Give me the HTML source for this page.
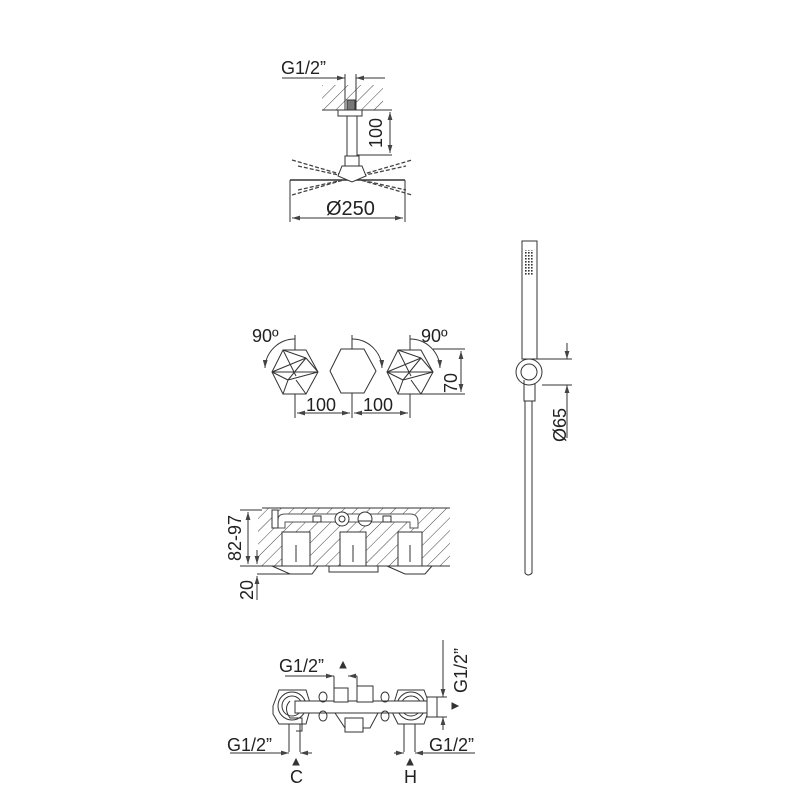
<!DOCTYPE html>
<html><head><meta charset="utf-8"><style>html,body{margin:0;padding:0;background:#fff}svg{display:block}text{font-family:"Liberation Sans",sans-serif;fill:#222}</style></head><body>
<svg width="800" height="800" viewBox="0 0 800 800" xmlns="http://www.w3.org/2000/svg">
<defs>
<pattern id="h" width="9" height="9" patternUnits="userSpaceOnUse" patternTransform="rotate(45)"><line x1="0" y1="0" x2="0" y2="9" stroke="#444" stroke-width="1"/></pattern>
<pattern id="d" width="3" height="3" patternUnits="userSpaceOnUse"><rect x="0" y="0" width="1.6" height="1.6" fill="#333"/></pattern>
<marker id="a" viewBox="0 0 10 6" refX="10" refY="3" markerWidth="8" markerHeight="5" orient="auto-start-reverse"><path d="M0,0 L10,3 L0,6 z" fill="#444"/></marker>
</defs>
<g stroke="#333" stroke-width="1" fill="none">
<!-- TOP SHOWER -->
<rect x="322" y="85" width="61" height="25" fill="url(#h)" stroke="none"/>
<line x1="322" y1="110" x2="392" y2="110"/>
<line x1="282" y1="78" x2="345" y2="78" marker-end="url(#a)"/>
<line x1="385" y1="78" x2="356" y2="78" marker-end="url(#a)"/>
<line x1="345" y1="74" x2="345" y2="110"/><line x1="356" y1="74" x2="356" y2="110"/>
<rect x="347" y="100" width="8" height="10" fill="#777"/>
<rect x="338" y="110" width="24" height="6"/>
<rect x="347" y="116" width="10" height="40"/>
<rect x="345" y="156" width="14" height="10"/>
<line x1="357" y1="155" x2="392" y2="155"/>
<line x1="390" y1="112" x2="390" y2="153" marker-start="url(#a)" marker-end="url(#a)"/>
<line x1="290" y1="180" x2="405" y2="180" stroke-width="1.5"/>
<g stroke-dasharray="4,2" stroke="#444" stroke-width="1.3">
<line x1="292" y1="160" x2="412" y2="195"/><line x1="292" y1="195" x2="412" y2="160"/>
<line x1="298" y1="166" x2="406" y2="190"/><line x1="298" y1="190" x2="406" y2="166"/>
</g>
<path d="M342,166 L362,166 L366,176 L352,182 L338,176 Z" fill="#fff"/>
<line x1="290" y1="180" x2="290" y2="222"/><line x1="405" y1="180" x2="405" y2="222"/>
<line x1="292" y1="218" x2="403" y2="218" marker-start="url(#a)" marker-end="url(#a)"/>
<!-- HANDLES -->
<g id="hx">
<polygon points="272,372 283,350 306,350 318,372 306,394 283,394"/>
<line x1="272" y1="372" x2="306" y2="358"/>
<line x1="283" y1="350" x2="306" y2="358"/>
<line x1="306" y1="358" x2="318" y2="372"/>
<line x1="272" y1="372" x2="318" y2="372"/>
<line x1="283" y1="350" x2="296" y2="376"/>
<line x1="306" y1="358" x2="288" y2="380"/>
<line x1="272" y1="372" x2="288" y2="380"/>
<line x1="288" y1="380" x2="283" y2="394"/>
<line x1="288" y1="380" x2="318" y2="372"/>
<line x1="296" y1="380" x2="306" y2="394"/>
</g>
<use href="#hx" x="115"/>
<polygon points="330,371 341,349 364,349 376,371 364,393 341,393"/>
<path d="M295,339 A30,30 0 0 0 265,368" marker-end="url(#a)"/>
<path d="M352,339 A30,30 0 0 1 382,368" marker-end="url(#a)"/>
<path d="M410,339 A30,30 0 0 1 440,368" marker-end="url(#a)"/>
<line x1="295" y1="335" x2="295" y2="350"/><line x1="352" y1="335" x2="352" y2="349"/><line x1="410" y1="335" x2="410" y2="350"/>
<line x1="295" y1="394" x2="295" y2="418"/><line x1="352" y1="393" x2="352" y2="418"/><line x1="410" y1="394" x2="410" y2="418"/>
<line x1="297" y1="413" x2="350" y2="413" marker-start="url(#a)" marker-end="url(#a)"/>
<line x1="354" y1="413" x2="408" y2="413" marker-start="url(#a)" marker-end="url(#a)"/>
<line x1="433" y1="349" x2="465" y2="349"/><line x1="421" y1="394" x2="465" y2="394"/>
<line x1="461" y1="351" x2="461" y2="392" marker-start="url(#a)" marker-end="url(#a)"/>
<!-- SECTION -->
<path d="M262,508 L450,508 L450,566 L258,566 L258,508 Z" fill="url(#h)" stroke="none"/>
<path d="M278,520 Q278,514 285,514 L410,514 Q418,514 418,522 L418,528 L410,528 L410,522 L285,522 L285,528 L278,528 Z" fill="#fff" stroke="#555"/>
<path d="M262,508 L450,508 M258,566 L450,566" />
<rect x="282" y="532" width="28" height="34" fill="#fff"/>
<rect x="340" y="532" width="26" height="34" fill="#fff"/>
<rect x="398" y="532" width="24" height="34" fill="#fff"/>
<line x1="296" y1="545" x2="296" y2="562"/><line x1="353" y1="545" x2="353" y2="562"/><line x1="410" y1="545" x2="410" y2="562"/>
<circle cx="342" cy="519" r="7" fill="#fff"/><circle cx="342" cy="519" r="3"/>
<circle cx="365" cy="519" r="7" fill="#fff"/><line x1="358" y1="521" x2="372" y2="521"/>
<rect x="313" y="516" width="8" height="6" fill="#fff"/><rect x="383" y="516" width="8" height="6" fill="#fff"/>
<rect x="272" y="510" width="6" height="18" fill="#fff"/>
<path d="M272,566 L318,566 L312,574 L290,574 Z"/>
<path d="M329,566 L378,566 L378,572 L329,572 Z"/>
<path d="M387,566 L432,566 L425,574 L405,574 Z"/>
<line x1="240" y1="510" x2="262" y2="510"/>
<line x1="248" y1="512" x2="248" y2="564" marker-start="url(#a)" marker-end="url(#a)"/>
<line x1="240" y1="566" x2="258" y2="566"/>
<line x1="257" y1="574" x2="290" y2="574"/>
<line x1="257" y1="550" x2="257" y2="564" marker-end="url(#a)"/>
<line x1="257" y1="600" x2="257" y2="576" marker-end="url(#a)"/>
<!-- BOTTOM VALVE -->
<polygon points="273,706 279,690 306,690 311,706 306,724 279,724 273,714"/>
<circle cx="292" cy="706" r="14"/><circle cx="292" cy="706" r="10"/>
<polygon points="393,706 398,690 424,690 430,706 424,724 398,724 393,714"/>
<circle cx="411" cy="706" r="14"/><circle cx="411" cy="706" r="10"/>
<rect x="295" y="701" width="135" height="12" fill="#fff"/>
<rect x="427" y="697" width="10" height="20" fill="#fff"/>
<path d="M290,701 Q283,708 290,718 L302,718 L302,731 L296,731"/>
<rect x="334" y="688" width="14" height="14" fill="#fff"/>
<rect x="357" y="686" width="16" height="16" fill="#fff"/>
<path d="M335,713 L345,728 L370,728 L378,713"/>
<rect x="345" y="718" width="18" height="14" fill="#fff"/>
<ellipse cx="323" cy="697" rx="4" ry="5"/><ellipse cx="385" cy="697" rx="4" ry="5"/>
<ellipse cx="323" cy="716" rx="4" ry="5"/><ellipse cx="385" cy="716" rx="4" ry="5"/>
<line x1="285" y1="676" x2="334" y2="676" marker-end="url(#a)"/>
<line x1="357" y1="676" x2="348" y2="676" marker-end="url(#a)"/>
<line x1="334" y1="676" x2="334" y2="688"/><line x1="357" y1="676" x2="357" y2="686"/>
<path d="M340,668 L343,662 L346,668 Z" fill="#333"/>
<line x1="443" y1="640" x2="443" y2="697" marker-end="url(#a)"/>
<line x1="443" y1="730" x2="443" y2="717" marker-end="url(#a)"/>
<line x1="437" y1="697" x2="447" y2="697"/><line x1="437" y1="717" x2="447" y2="717"/>
<path d="M452,703 L458,706 L452,709 Z" fill="#333"/>
<line x1="289" y1="724" x2="289" y2="752"/><line x1="300" y1="724" x2="300" y2="752"/>
<line x1="230" y1="753" x2="289" y2="753" marker-end="url(#a)"/>
<line x1="312" y1="753" x2="300" y2="753" marker-end="url(#a)"/>
<line x1="404" y1="724" x2="404" y2="752"/><line x1="415" y1="724" x2="415" y2="752"/>
<line x1="394" y1="753" x2="404" y2="753" marker-end="url(#a)"/>
<line x1="475" y1="753" x2="415" y2="753" marker-end="url(#a)"/>
<path d="M293,765 L296,759 L299,765 Z" fill="#333"/>
<path d="M407,765 L410,759 L413,765 Z" fill="#333"/>
<!-- HAND SHOWER -->
<rect x="522" y="241" width="15" height="118" fill="#fff"/>
<rect x="525" y="250" width="8" height="26" fill="url(#d)" stroke="none"/>
<circle cx="529" cy="372" r="13" fill="#fff"/>
<circle cx="529" cy="372" r="8"/>
<path d="M524,380 L524,401 L535,401 L535,383"/>
<path d="M525,401 L525,573 Q528,577 532,573 L532,401"/>
<line x1="537" y1="359" x2="572" y2="359"/><line x1="542" y1="385" x2="572" y2="385"/>
<line x1="567" y1="343" x2="567" y2="359" marker-end="url(#a)"/>
<line x1="567" y1="398" x2="567" y2="385" marker-end="url(#a)"/>
<line x1="567" y1="398" x2="567" y2="438"/>
</g>
<g font-size="18">
<text x="281" y="74">G1/2”</text>
<text x="382" y="148" transform="rotate(-90 382 148)">100</text>
<text x="326" y="215" font-size="20">Ø250</text>
<text x="252" y="342">90º</text>
<text x="421" y="342">90º</text>
<text x="306" y="411">100</text>
<text x="363" y="411">100</text>
<text x="457" y="393" transform="rotate(-90 457 393)">70</text>
<text x="241" y="561" transform="rotate(-90 241 561)">82-97</text>
<text x="253" y="600" transform="rotate(-90 253 600)">20</text>
<text x="279" y="672">G1/2”</text>
<text x="467" y="693" transform="rotate(-90 467 693)">G1/2”</text>
<text x="227" y="751">G1/2”</text>
<text x="429" y="751">G1/2”</text>
<text x="290" y="783">C</text>
<text x="404" y="783">H</text>
<text x="566" y="442" transform="rotate(-90 566 442)">Ø65</text>
</g>
</svg>
</body></html>
